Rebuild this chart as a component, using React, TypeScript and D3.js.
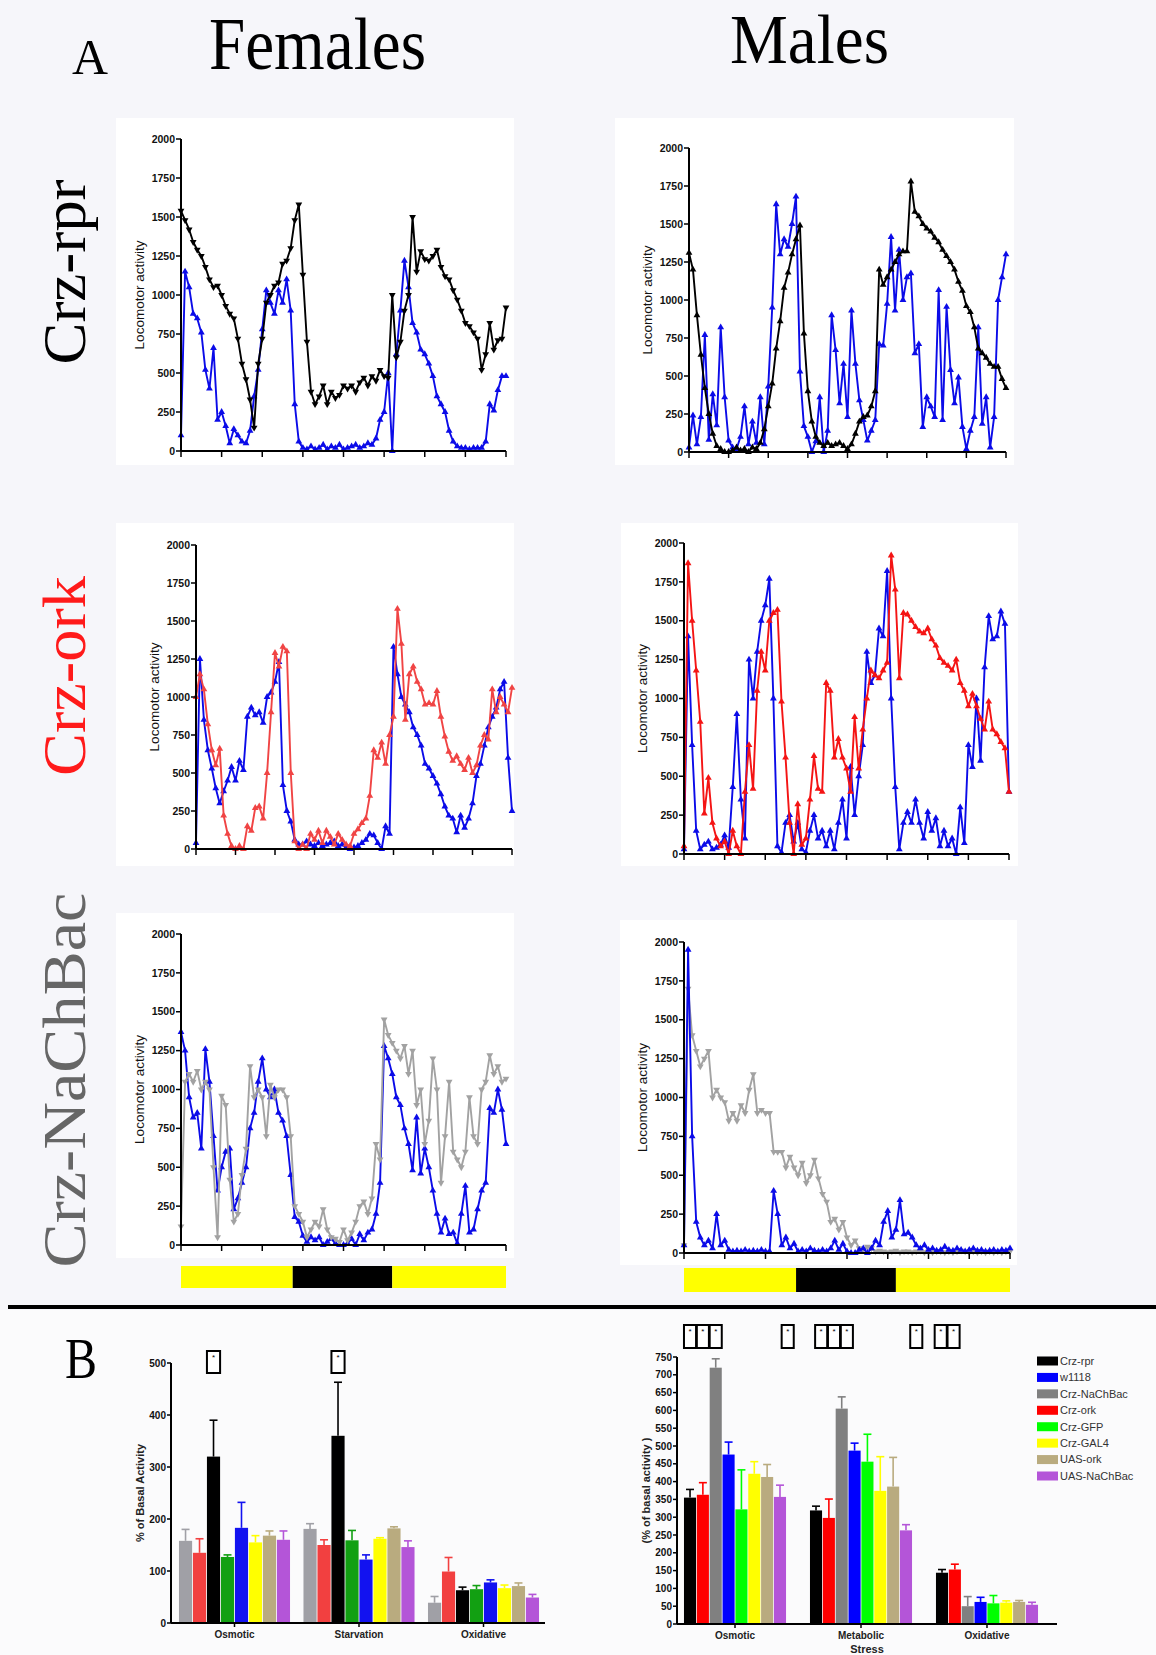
import React, { useEffect } from "react";
import * as d3 from "d3";

const W = 1156;
const H = 1655;

// ---- panel A: locomotor activity (81 bins across 3 light/dark phases) ----
const activityTicks = [0, 250, 500, 750, 1000, 1250, 1500, 1750, 2000];
const timeTicks = [0, 10, 20, 30, 40, 50, 60, 70, 80];
const photoperiod = [
  { phase: "light", from: 0, to: 27.5 },
  { phase: "dark", from: 27.5, to: 52 },
  { phase: "light", from: 52, to: 80 },
];

const femCtrlRpr = [100,1150,1050,880,850,760,520,400,660,200, 250,160,50,140,100,60,50,130,350,520, 780,1030,950,880,1030,950,1100,900,300,60, 20,10,30,10,20,40,10,30,20,40, 10,20,30,40,20,30,50,40,80,200, 250,500,0,620,900,1220,1050,820,760,650, 620,560,480,350,300,250,130,60,30,20, 20,10,20,20,20,60,300,260,390,480, 480];
const femRpr = [1540,1480,1420,1340,1290,1250,1180,1100,1050,1060, 1000,930,880,850,720,560,460,330,150,560, 720,950,1000,1060,1080,1200,1220,1300,1480,1580, 1130,700,380,300,350,420,300,380,340,360, 420,400,420,380,440,470,420,480,450,520, 480,470,1000,600,700,900,1000,1500,1150,1280, 1230,1220,1250,1290,1180,1120,1100,1030,970,900, 820,800,760,720,520,620,820,650,710,720, 920];
const maleCtrlRpr = [30,240,50,230,770,80,380,175,820,360, 75,30,20,100,300,50,200,60,360,50, 430,950,1630,1300,1400,1350,1500,1680,530,170, 100,0,70,360,0,140,900,670,320,580, 230,930,580,340,210,75,140,210,710,700, 975,1415,930,1330,1000,1150,1175,650,710,165, 360,300,230,1065,210,955,540,320,490,165, 20,140,230,820,185,360,30,230,1000,1150, 1300];
const maleRpr = [1310,1200,900,640,420,250,120,40,20,0, 0,10,30,10,20,0,30,20,60,150, 300,450,680,860,1080,1180,1300,1400,1490,780, 400,200,100,60,40,60,40,50,60,40, 20,50,120,200,230,240,300,400,1200,1100, 1150,1200,1250,1300,1320,1320,1780,1580,1550,1500, 1470,1450,1410,1380,1330,1290,1250,1200,1120,1060, 960,920,820,680,650,620,580,560,560,480, 420];
const femCtrlOrk = [40,1250,850,650,530,400,300,380,450,540, 450,580,520,870,930,880,900,830,1000,1030, 1100,1230,420,250,180,60,30,30,50,30, 20,40,20,30,40,50,20,30,10,0, 10,20,40,60,100,90,40,0,150,100, 1330,1150,1000,950,900,800,750,680,560,530, 480,430,360,280,220,200,110,220,140,200, 300,480,560,680,800,870,930,1050,1100,600, 250];
const femOrk = [1000,1150,1050,820,650,550,660,220,100,20, 0,20,0,150,120,270,280,200,500,900, 1290,1200,1330,1300,500,50,0,30,0,100, 60,120,40,120,80,30,100,60,30,20, 100,130,170,200,350,650,600,700,560,750, 870,1580,1350,850,1150,1200,1100,1050,950,960, 950,1040,870,740,640,580,610,560,520,600, 500,550,680,750,720,1050,900,1000,950,900, 1060];
const maleCtrlOrk = [30,1400,700,150,30,60,80,30,40,60, 120,40,430,900,350,100,1250,1000,1300,1500, 1600,1770,1000,50,10,200,250,80,200,30, 10,150,250,100,150,50,150,30,200,350, 100,560,250,500,700,1300,1100,1150,1450,1400, 1820,1000,430,30,200,270,200,350,200,100, 270,150,230,50,150,50,100,0,300,70, 700,560,1000,600,1200,1530,1380,1400,1560,1480, 400];
const maleOrk = [50,1870,1500,1180,850,260,490,200,100,50, 80,0,150,50,0,400,700,420,1050,1300, 1180,1500,1550,1570,980,620,200,0,320,60, 100,350,630,420,400,1100,1050,620,740,620, 550,400,880,550,800,1000,1180,1150,1130,1180, 1230,1920,1700,1130,1550,1540,1500,1460,1430,1420, 1450,1380,1340,1260,1230,1210,1180,1250,1100,1050, 950,1030,950,870,800,980,800,770,720,680, 400];
const femCtrlNa = [1370,1250,950,820,850,620,1260,1050,700,350, 500,600,620,230,300,400,500,750,850,1050, 1200,1000,950,1000,850,800,700,450,180,150, 60,20,50,30,50,0,20,40,10,0, 0,10,40,0,70,30,80,100,200,400, 1280,1200,1100,950,900,750,650,480,820,460, 620,500,350,200,80,170,70,80,10,200, 380,80,100,230,350,400,880,850,1000,870, 650];
const femNa = [120,1050,1100,1050,1120,1000,1050,1000,500,50, 960,900,420,150,200,450,620,1150,950,1000, 950,700,1030,950,1000,1000,950,700,250,200, 150,50,100,150,120,230,100,50,40,20, 100,30,80,150,250,280,200,300,650,550, 1450,1350,1300,1250,1200,1280,1100,1250,900,1000, 650,800,1200,1000,400,700,1050,600,550,500, 600,950,700,650,1000,1050,1220,1100,1150,1050, 1070];
const maleCtrlNa = [50,1950,750,200,100,50,80,30,250,50, 80,20,10,15,10,20,10,15,10,20, 10,10,400,250,50,100,30,60,10,20, 10,30,15,10,20,10,30,80,20,60, 10,0,0,20,30,0,30,80,50,200, 270,100,150,340,120,130,100,50,30,50, 20,30,15,20,40,20,15,30,20,10, 20,30,15,20,10,15,20,10,20,15, 30];
const maleNa = [50,1700,1400,1300,1200,1250,1300,1000,1050,1000, 970,850,900,850,950,900,1050,1150,900,920, 900,900,650,650,650,550,620,550,500,580, 450,500,600,480,380,330,200,220,150,200, 100,50,80,30,20,40,30,10,15,10, 5,10,15,5,10,10,5,10,15,5, 10,5,10,10,5,10,5,10,15,10, 5,10,5,10,5,10,5,10,5,10, 10];

const BLUE = "#0b0be8";
const panels = [
  { id: "f-rpr", box: [116, 118, 398, 347], x0: 181, x1: 506, y0: 451, y1: 139,
    series: [{ v: femCtrlRpr, c: BLUE, s: "up" }, { v: femRpr, c: "#000", s: "down" }] },
  { id: "m-rpr", box: [615, 118, 399, 347], x0: 689, x1: 1006, y0: 452, y1: 148,
    series: [{ v: maleCtrlRpr, c: BLUE, s: "up" }, { v: maleRpr, c: "#000", s: "up" }] },
  { id: "f-ork", box: [116, 523, 398, 343], x0: 196, x1: 512, y0: 849, y1: 545,
    series: [{ v: femCtrlOrk, c: BLUE, s: "up" }, { v: femOrk, c: "#f04444", s: "up" }] },
  { id: "m-ork", box: [621, 523, 397, 343], x0: 684, x1: 1009, y0: 854, y1: 543,
    series: [{ v: maleCtrlOrk, c: BLUE, s: "up" }, { v: maleOrk, c: "#f41414", s: "up" }] },
  { id: "f-na", box: [116, 913, 398, 345], x0: 181, x1: 506, y0: 1245, y1: 934, bar: [1266, 22],
    series: [{ v: femCtrlNa, c: BLUE, s: "up" }, { v: femNa, c: "#a2a2a2", s: "down" }] },
  { id: "m-na", box: [620, 920, 397, 345], x0: 684, x1: 1010, y0: 1253, y1: 942, bar: [1268, 24],
    series: [{ v: maleNa, c: "#a2a2a2", s: "down" }, { v: maleCtrlNa, c: BLUE, s: "up" }] },
];

// ---- panel B: % of basal activity under stress ----
const femStress = ["Osmotic", "Starvation", "Oxidative"];
const femGenotypes = ["Crz-NaChBac", "Crz-ork", "Crz-rpr", "Crz-GFP", "w1118", "Crz-GAL4", "UAS-ork", "UAS-NaChBac"];
const femColors = ["#a0a0a6", "#f24040", "#000000", "#12a012", "#1212f0", "#ffff00", "#b9ab7f", "#b455d8"];
const femMeans = [[158, 181, 39], [135, 150, 99], [320, 360, 63], [127, 159, 65], [183, 122, 78], [155, 162, 67], [168, 182, 71], [160, 146, 49]];
const femSem = [[22, 10, 12], [27, 10, 27], [70, 103, 6], [4, 19, 7], [49, 9, 5], [13, 2, 6], [9, 3, 6], [17, 12, 6]];
const femSig = [{ stress: "Osmotic", slot: 2 }, { stress: "Starvation", slot: 2 }];

const maleStress = ["Osmotic", "Metabolic", "Oxidative"];
const maleGenotypes = ["Crz-rpr", "Crz-ork", "Crz-NaChBac", "w1118", "Crz-GFP", "Crz-GAL4", "UAS-ork", "UAS-NaChBac"];
const maleColors = ["#000000", "#ff0000", "#808080", "#0000ff", "#00ff00", "#ffff00", "#b9ab7f", "#b455d8"];
const maleMeans = [[355, 319, 144], [363, 298, 153], [720, 605, 50], [476, 487, 62], [322, 456, 58], [422, 374, 60], [413, 386, 62], [357, 263, 54]];
const maleSem = [[23, 12, 9], [34, 53, 15], [25, 33, 27], [35, 21, 13], [111, 77, 22], [34, 96, 5], [35, 82, 4], [33, 16, 7]];
const maleSig = [
  { stress: "Osmotic", slot: 0 }, { stress: "Osmotic", slot: 1 }, { stress: "Osmotic", slot: 2 }, { stress: "Osmotic", slot: 7.6 },
  { stress: "Metabolic", slot: 0.4 }, { stress: "Metabolic", slot: 1.4 }, { stress: "Metabolic", slot: 2.4 }, { stress: "Metabolic", slot: 7.8 },
  { stress: "Oxidative", slot: -0.1 }, { stress: "Oxidative", slot: 0.9 },
];
const legendOrder = ["Crz-rpr", "w1118", "Crz-NaChBac", "Crz-ork", "Crz-GFP", "Crz-GAL4", "UAS-ork", "UAS-NaChBac"];

const SANS = "'Liberation Sans', Arial, sans-serif";
const SERIF = "'Liberation Serif', 'Times New Roman', serif";

function ActivityChart({ p }) {
  const x = d3.scaleLinear().domain([0, 80]).range([p.x0, p.x1]);
  const y = d3.scaleLinear().domain([0, 2000]).range([p.y0, p.y1]);
  const line = d3.line<number>().x((_, i) => x(i)).y((d) => y(d));
  const tri = d3.symbol(d3.symbolTriangle, 20)();
  return (
    <g>
      <rect x={p.box[0]} y={p.box[1]} width={p.box[2]} height={p.box[3]} fill="#fff" />
      {p.series.map((s, k) => (
        <g key={k}>
          <path d={line(s.v)} fill="none" stroke={s.c} strokeWidth={1.9} strokeLinejoin="round" />
          {s.v.map((v, i) => (
            <path
              key={i}
              d={tri}
              fill={s.c}
              transform={`translate(${x(i)},${y(v)})${s.s === "down" ? " rotate(180)" : ""}`}
            />
          ))}
        </g>
      ))}
      <line x1={p.x0} x2={p.x0} y1={p.y0} y2={p.y1} stroke="#000" strokeWidth={2} />
      <line x1={p.x0} x2={p.x1} y1={p.y0} y2={p.y0} stroke="#000" strokeWidth={2} />
      {activityTicks.map((t) => (
        <g key={t} transform={`translate(0,${y(t)})`}>
          <line x1={p.x0 - 5} x2={p.x0} stroke="#000" strokeWidth={1.5} />
          <text x={p.x0 - 6} dy="0.35em" textAnchor="end" fontSize={10.5} fontWeight="bold" fontFamily={SANS} fill="#111">
            {t}
          </text>
        </g>
      ))}
      {timeTicks.map((t) => (
        <line key={t} x1={x(t)} x2={x(t)} y1={p.y0} y2={p.y0 + 6} stroke="#000" strokeWidth={1.5} />
      ))}
      <text
        transform={`translate(${p.x0 - 42},${(p.y0 + p.y1) / 2}) rotate(-90)`}
        textAnchor="middle"
        dy="0.35em"
        fontSize={13.5}
        fontFamily={SANS}
        fill="#111"
      >
        Locomotor activity
      </text>
      {p.bar &&
        photoperiod.map((ph, i) => (
          <rect
            key={i}
            x={x(ph.from)}
            y={p.bar[0]}
            width={x(ph.to) - x(ph.from)}
            height={p.bar[1]}
            fill={ph.phase === "dark" ? "#000" : "#ffff00"}
          />
        ))}
    </g>
  );
}

function StressChart({ cfg }) {
  const x = d3.scaleBand().domain(cfg.stress).range(cfg.band).paddingInner(cfg.pin).paddingOuter(cfg.pout);
  const xi = d3.scaleBand().domain(cfg.genotypes).range([0, x.bandwidth()]).paddingInner(0.06);
  const y = d3.scaleLinear().domain([0, cfg.max]).range([cfg.y0, cfg.y1]);
  const bw = xi.bandwidth();
  const step = xi.step();
  return (
    <g>
      {cfg.genotypes.map((g, gi) =>
        cfg.stress.map((st, si) => {
          const bx = x(st) + xi(g);
          const m = cfg.means[gi][si];
          const top = m + cfg.sem[gi][si];
          const cx = bx + bw / 2;
          return (
            <g key={g + st}>
              <line x1={cx} x2={cx} y1={y(m)} y2={y(top)} stroke={cfg.colors[gi]} strokeWidth={1.6} />
              <line x1={cx - 4} x2={cx + 4} y1={y(top)} y2={y(top)} stroke={cfg.colors[gi]} strokeWidth={1.6} />
              <rect x={bx} y={y(m)} width={bw} height={y(0) - y(m)} fill={cfg.colors[gi]} />
            </g>
          );
        })
      )}
      {cfg.sig.map((s, i) => {
        const bx = x(s.stress) + s.slot * step;
        return (
          <g key={i}>
            <rect x={bx} y={cfg.y1 + cfg.sigOff} width={bw} height={cfg.sigH} fill="#fff" stroke="#000" strokeWidth={2} />
            <text x={bx + bw / 2} y={cfg.y1 + cfg.sigOff + 9} textAnchor="middle" fontSize={8} fontFamily={SANS}>*</text>
          </g>
        );
      })}
      <line x1={cfg.axX} x2={cfg.axX} y1={y(0)} y2={y(cfg.max)} stroke="#000" strokeWidth={2} />
      <line x1={cfg.axX} x2={cfg.axEnd} y1={y(0)} y2={y(0)} stroke="#000" strokeWidth={2} />
      {cfg.ticks.map((t) => (
        <g key={t} transform={`translate(0,${y(t)})`}>
          <line x1={cfg.axX - 4} x2={cfg.axX} stroke="#000" strokeWidth={1.5} />
          <text x={cfg.axX - 5} dy="0.35em" textAnchor="end" fontSize={10} fontWeight="bold" fontFamily={SANS} fill="#111">
            {t}
          </text>
        </g>
      ))}
      {cfg.stress.map((st) => (
        <g key={st}>
          <line x1={x(st) + x.bandwidth() / 2} x2={x(st) + x.bandwidth() / 2} y1={y(0)} y2={y(0) + 4} stroke="#000" strokeWidth={1.5} />
          <text x={x(st) + x.bandwidth() / 2} y={y(0) + 15} textAnchor="middle" fontSize={10} fontWeight="bold" fontFamily={SANS} fill="#222">
            {st}
          </text>
        </g>
      ))}
      <text
        transform={`translate(${cfg.labelX},${(cfg.y0 + cfg.y1) / 2}) rotate(-90)`}
        textAnchor="middle"
        dy="0.35em"
        fontSize={11}
        fontWeight="bold"
        fontFamily={SANS}
        fill="#222"
      >
        {cfg.label}
      </text>
    </g>
  );
}

const femCfg = {
  stress: femStress, genotypes: femGenotypes, colors: femColors, means: femMeans, sem: femSem, sig: femSig,
  band: [171, 547], pin: 0.108, pout: 0.064, y0: 1623, y1: 1363, max: 500, ticks: [0, 100, 200, 300, 400, 500],
  axX: 171, axEnd: 545, labelX: 140, label: "% of Basal Activity", sigOff: -12, sigH: 22,
};
const maleCfg = {
  stress: maleStress, genotypes: maleGenotypes, colors: maleColors, means: maleMeans, sem: maleSem, sig: maleSig,
  band: [671, 1051], pin: 0.19, pout: 0.103, y0: 1624, y1: 1357, max: 750, ticks: d3.range(0, 751, 50),
  axX: 677, axEnd: 1057, labelX: 646, label: "(% of basal activity )", sigOff: -32, sigH: 23,
};

export default function App() {
  useEffect(() => {
    document.body.style.margin = "0";
  }, []);
  const legendY = d3.scalePoint().domain(legendOrder).range([1361, 1476]);
  return (
    <svg width={W} height={H} viewBox={`0 0 ${W} ${H}`} style={{ display: "block" }}>
      <rect width={W} height={H} fill="#f6f6fa" />
      <rect x={0} y={1310} width={W} height={H - 1310} fill="#fbfbfc" />
      <text x={72} y={74} fontSize={50} fontFamily={SERIF} textLength={36} lengthAdjust="spacingAndGlyphs">A</text>
      <text x={209} y={69} fontSize={74} fontFamily={SERIF} textLength={217} lengthAdjust="spacingAndGlyphs">Females</text>
      <text x={730} y={63} fontSize={69} fontFamily={SERIF} textLength={159} lengthAdjust="spacingAndGlyphs">Males</text>
      <text transform="translate(85,272) rotate(-90)" textAnchor="middle" fontSize={62} fontFamily={SERIF} textLength={185} lengthAdjust="spacingAndGlyphs" fill="#000">Crz-rpr</text>
      <text transform="translate(85,676) rotate(-90)" textAnchor="middle" fontSize={62} fontFamily={SERIF} textLength={200} lengthAdjust="spacingAndGlyphs" fill="#ff1a1a">Crz-ork</text>
      <text transform="translate(85,1080) rotate(-90)" textAnchor="middle" fontSize={62} fontFamily={SERIF} textLength={375} lengthAdjust="spacingAndGlyphs" fill="#666">Crz-NaChBac</text>
      {panels.map((p) => (
        <ActivityChart key={p.id} p={p} />
      ))}
      <rect x={8} y={1305} width={W - 8} height={4} fill="#000" />
      <text x={65} y={1378} fontSize={56} fontFamily={SERIF} textLength={32} lengthAdjust="spacingAndGlyphs">B</text>
      <StressChart cfg={femCfg} />
      <StressChart cfg={maleCfg} />
      {legendOrder.map((g) => (
        <g key={g} transform={`translate(1037,${legendY(g)})`}>
          <rect x={0} y={-4.5} width={21} height={9} fill={maleColors[maleGenotypes.indexOf(g)]} />
          <text x={23} dy="0.35em" fontSize={11} fontFamily={SANS} fill="#333">{g}</text>
        </g>
      ))}
      <text x={867} y={1653} textAnchor="middle" fontSize={11} fontWeight="bold" fontFamily={SANS} fill="#222">Stress</text>
    </svg>
  );
}
